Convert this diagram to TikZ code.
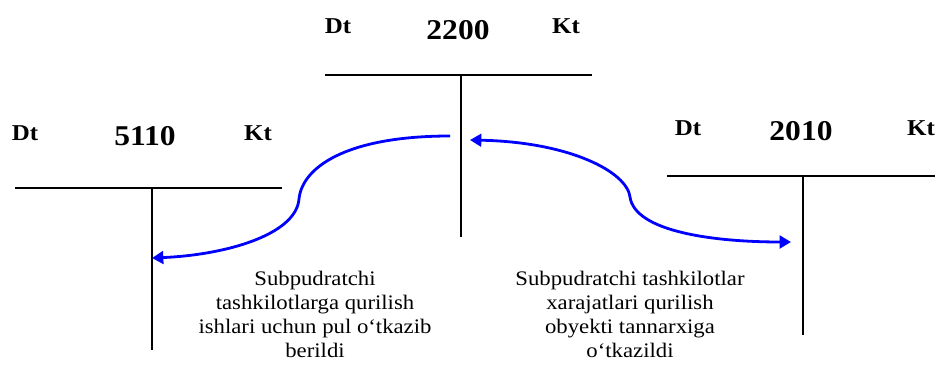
\documentclass[tikz,border=0pt]{standalone}
\usepackage{fontspec}
\setmainfont{Liberation Serif}
\usetikzlibrary{arrows.meta,positioning}
\definecolor{flowblue}{HTML}{0000FF}
\tikzset{
  side/.style={font=\fontsize{17}{19}\selectfont\bfseries,inner sep=0pt,
               xscale=1.1,transform shape},
  num/.style={font=\fontsize{21.5}{23}\selectfont\bfseries,inner sep=0pt,
              xscale=1.1,transform shape},
  tline/.style={line width=0.9pt,black},
  flow/.style={line width=2.1pt,flowblue,
               arrows={-Triangle[length=8.5pt,width=9.5pt]}},
  flowboth/.style={flow,arrows={Triangle[length=8.5pt,width=9.5pt]-Triangle[length=8.5pt,width=9.5pt]}},
  note/.style={align=center,font=\fontsize{15.5}{18}\selectfont,inner sep=0pt,
               anchor=north,xscale=1.1,transform shape},
}
\begin{document}
\begin{tikzpicture}[x=0.75pt,y=-0.75pt]
  \useasboundingbox (0,0) rectangle (937,374);
  % account 2200
  \node[side] (dt2200) at (338,26) {Dt};
  \node[num]  (n2200)  at (458,30) {2200};
  \node[side] (kt2200) at (566,26) {Kt};
  \coordinate (l2200) at (325,75);
  \coordinate (r2200) at (592,75);
  \coordinate (t2200) at (461,75);
  \coordinate (b2200) at (461,237);
  % account 5110
  \node[side] (dt5110) at (25,133) {Dt};
  \node[num]  (n5110)  at (145,136) {5110};
  \node[side] (kt5110) at (258,133) {Kt};
  \coordinate (l5110) at (15,188);
  \coordinate (r5110) at (282,188);
  \coordinate (t5110) at (152,188);
  \coordinate (b5110) at (152,350);
  % account 2010
  \node[side] (dt2010) at (688,128) {Dt};
  \node[num]  (n2010)  at (801,131) {2010};
  \node[side] (kt2010) at (921,128) {Kt};
  \coordinate (l2010) at (667,176);
  \coordinate (r2010) at (935,176);
  \coordinate (t2010) at (803,176);
  \coordinate (b2010) at (803,335);
  \foreach \a in {2200,5110,2010}
    {\draw[tline] (l\a) -- (r\a);
     \draw[tline] (t\a) -- (b\a);}
  % flows
  \coordinate (s1) at (450,136);
  \coordinate (m1) at (299,199);
  \coordinate (e1) at (152,258);
  \draw[flow] (s1) .. controls (345,136) and (302,168) .. (m1)
              .. controls (296,235) and (225,255) .. (e1);
  \coordinate (s2) at (470,140);
  \coordinate (m2) at (630,197);
  \coordinate (e2) at (791,242);
  \draw[flowboth] (s2) .. controls (570,142) and (627,172) .. (m2)
                  .. controls (635,232) and (715,242) .. (e2);
  % notes
  \node[note] (txt1) at (315,271) {Subpudratchi\\tashkilotlarga qurilish\\ishlari uchun pul o‘tkazib\\berildi};
  \node[note] (txt2) at (630,271) {Subpudratchi tashkilotlar\\xarajatlari qurilish\\obyekti tannarxiga\\o‘tkazildi};
\end{tikzpicture}
\end{document}
